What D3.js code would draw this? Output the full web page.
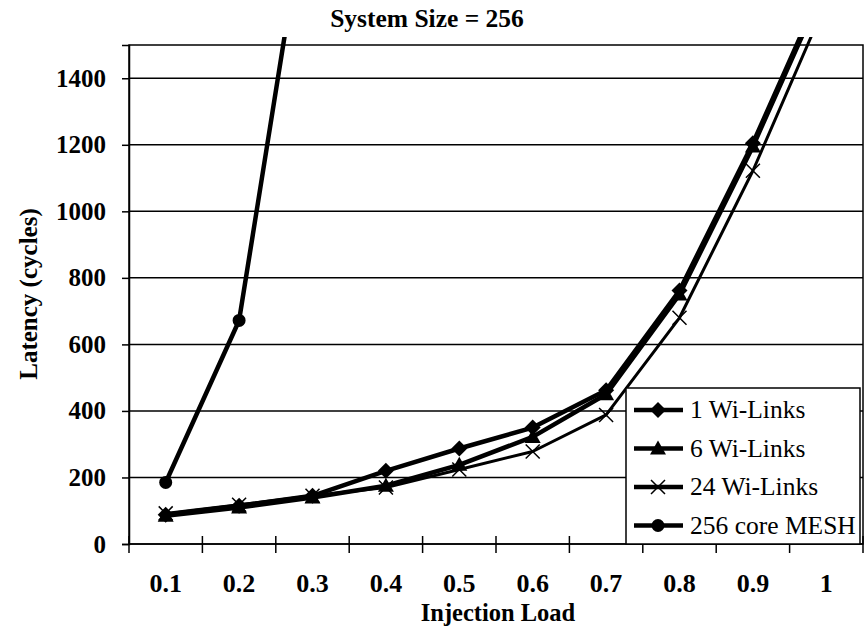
<!DOCTYPE html>
<html><head><meta charset="utf-8">
<script src="https://cdn.jsdelivr.net/npm/d3@7"></script>
<style>
html,body{margin:0;padding:0;background:#fff;}
svg{display:block;}
</style></head>
<body><svg id="c" width="864" height="640"></svg>
<script>
const categories = ["0.1","0.2","0.3","0.4","0.5","0.6","0.7","0.8","0.9","1"];
const wi1  = [88, 115, 145, 220, 287, 350, 462, 762, 1205, 1700];
const wi6  = [85, 110, 140, 175, 238, 322, 450, 750, 1195, 1690];
const wi24 = [92, 118, 145, 170, 224, 278, 388, 680, 1122, 1630];
const mesh = [185, 672, 2050];
const yTicks = [0, 200, 400, 600, 800, 1000, 1200, 1400];
const seriesNames = ["1 Wi-Links", "6 Wi-Links", "24 Wi-Links", "256 core MESH"];
const title = "System Size = 256";
const xTitle = "Injection Load";
const yTitle = "Latency (cycles)";

const FONT = "'Liberation Serif', 'Times New Roman', Tinos, 'DejaVu Serif', serif";

const series = [
  {name: seriesNames[0], values: wi1, marker: "diamond", width: 4.5},
  {name: seriesNames[1], values: wi6, marker: "triangle", width: 4.5},
  {name: seriesNames[2], values: wi24, marker: "cross", width: 3},
  {name: seriesNames[3], values: mesh, marker: "circle", width: 4.5}
];

const L = 129, R = 863, T = 45, B = 544;
const svg = d3.select("#c");
const x = d3.scaleBand().domain(categories).range([L, R]).padding(0);
const y = d3.scaleLinear().domain([0, 1500]).range([B, T]);

// gridlines
svg.append("g").selectAll("line").data(yTicks.slice(1)).join("line")
  .attr("x1", L).attr("x2", R).attr("y1", d => y(d)).attr("y2", d => y(d))
  .attr("stroke", "#000").attr("stroke-width", 1.5);

// plot border
svg.append("rect").attr("x", L).attr("y", T).attr("width", R - L).attr("height", B - T)
  .attr("fill", "none").attr("stroke", "#000").attr("stroke-width", 1.5);

// y axis
const ya = svg.append("g").attr("transform", `translate(${L},0)`)
  .call(d3.axisLeft(y).tickValues(yTicks).tickSize(7).tickPadding(16).tickFormat(d3.format("d")));
ya.attr("font-family", null).attr("font-size", null);
ya.select(".domain").attr("stroke", "#000").attr("stroke-width", 1.5);
ya.selectAll(".tick line").attr("stroke", "#000").attr("stroke-width", 1.5);
ya.selectAll("text").style("font-family", FONT).attr("fill", "#000")
  .style("font-size", "25px").style("font-weight", "bold").attr("dy", "0.32em").attr("x", -23);

// x axis: ticks at category boundaries
const bounds = categories.map(c => x(c)).concat([x(categories[categories.length - 1]) + x.bandwidth()]);
svg.append("line").attr("x1", L).attr("x2", R).attr("y1", B).attr("y2", B)
  .attr("stroke", "#000").attr("stroke-width", 1.5);
svg.append("g").selectAll("line").data(bounds).join("line")
  .attr("x1", d => d).attr("x2", d => d).attr("y1", B - 8).attr("y2", B + 9)
  .attr("stroke", "#000").attr("stroke-width", 1.5);
svg.append("g").selectAll("text").data(categories).join("text")
  .attr("x", d => x(d) + x.bandwidth() / 2).attr("y", 592)
  .attr("text-anchor", "middle").style("font-family", FONT).style("font-size", "26px").style("font-weight", "bold")
  .text(d => d);

// titles
svg.append("text").attr("x", 427).attr("y", 27).attr("text-anchor", "middle")
  .style("font-family", FONT).style("font-size", "25.5px").style("font-weight", "bold").text(title);
svg.append("text").attr("x", 498).attr("y", 621).attr("text-anchor", "middle")
  .style("font-family", FONT).style("font-size", "24.5px").style("font-weight", "bold").text(xTitle);
svg.append("text").attr("transform", "translate(37,294) rotate(-90)").attr("text-anchor", "middle")
  .style("font-family", FONT).style("font-size", "25px").style("font-weight", "bold").text(yTitle);

// clip
svg.append("defs").append("clipPath").attr("id", "clip")
  .append("rect").attr("x", L).attr("y", T - 8).attr("width", R - L).attr("height", B - T + 8);

function markerPath(type, cx, cy) {
  if (type === "diamond") { const r = 8; return `M${cx},${cy - r}L${cx + r},${cy}L${cx},${cy + r}L${cx - r},${cy}Z`; }
  if (type === "triangle") { const r = 8; return `M${cx},${cy - r}L${cx + r},${cy + r * 0.75}L${cx - r},${cy + r * 0.75}Z`; }
  if (type === "circle") { const r = 6.5; return `M${cx + r},${cy}A${r},${r} 0 1,1 ${cx - r},${cy}A${r},${r} 0 1,1 ${cx + r},${cy}Z`; }
  const r = 7; return `M${cx - r},${cy - r}L${cx + r},${cy + r}M${cx - r},${cy + r}L${cx + r},${cy - r}`;
}

const plot = svg.append("g").attr("clip-path", "url(#clip)");
const line = d3.line().x((d, i) => x(categories[i]) + x.bandwidth() / 2).y(d => y(d));
series.forEach(s => {
  plot.append("path").attr("d", line(s.values)).attr("fill", "none")
    .attr("stroke", "#000").attr("stroke-width", s.width).attr("stroke-linejoin", "round");
  plot.append("g").selectAll("path").data(s.values).join("path")
    .attr("d", (d, i) => markerPath(s.marker, x(categories[i]) + x.bandwidth() / 2, y(d)))
    .attr("fill", s.marker === "cross" ? "none" : "#000")
    .attr("stroke", "#000").attr("stroke-width", s.marker === "cross" ? 1.5 : 0);
});

// legend
const lg = svg.append("g");
lg.append("rect").attr("x", 626).attr("y", 388).attr("width", 234).attr("height", 156)
  .attr("fill", "#fff").attr("stroke", "#000").attr("stroke-width", 1.5);
const ly = [410, 448.5, 487, 525.5];
series.forEach((s, i) => {
  lg.append("line").attr("x1", 634).attr("x2", 683).attr("y1", ly[i]).attr("y2", ly[i])
    .attr("stroke", "#000").attr("stroke-width", 4.5);
  lg.append("path").attr("d", markerPath(s.marker, 658, ly[i]))
    .attr("fill", s.marker === "cross" ? "none" : "#000")
    .attr("stroke", "#000").attr("stroke-width", s.marker === "cross" ? 1.5 : 0);
  lg.append("text").attr("x", 690).attr("y", ly[i] + 8)
    .style("font-family", FONT).style("font-size", "25.5px").text(s.name);
});
</script></body></html>
